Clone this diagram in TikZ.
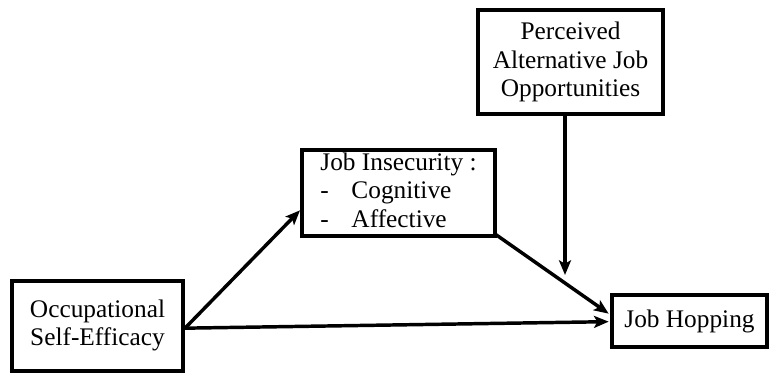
\documentclass[tikz,border=0pt]{standalone}
\usepackage{fontspec}
\setmainfont{Liberation Serif}
\usetikzlibrary{arrows.meta}
\begin{document}
\begin{tikzpicture}[x=0.75pt,y=-0.75pt,
  box/.style={draw=black,line width=3pt,inner sep=0pt,font=\fontsize{19pt}{21.5pt}\selectfont},
  link/.style={line width=2.6pt,-{Stealth[length=11pt,width=9pt,inset=2.5pt]}}]
\useasboundingbox (0,0) rectangle (772,375);
\node[box,minimum width=171*0.75pt,minimum height=90*0.75pt,align=center] (ose) at (97.5,325.5) {Occupational\\Self-Efficacy};
\node[box,minimum width=193*0.75pt,minimum height=81*0.75pt] (ji) at (398.5,193)
  {\begin{tabular}{@{}l@{\hspace{17pt}}l@{}}\multicolumn{2}{@{}l@{}}{Job Insecurity :}\\-&Cognitive\\-&Affective\end{tabular}};
\node[box,minimum width=185*0.75pt,minimum height=104*0.75pt,align=center] (pa) at (570.5,62) {Perceived\\Alternative Job\\Opportunities};
\node[box,minimum width=155*0.75pt,minimum height=52*0.75pt] (jh) at (689.5,321) {Job Hopping};
\coordinate (m) at (565,275);
\draw[link] ([yshift=-2pt]ose.east) -- ([yshift=-13pt]ji.west);
\draw[link] ([yshift=-2pt]ose.east) -- ([xshift=-1pt,yshift=-0.5pt]jh.west);
\draw[link] ([xshift=-1.5pt,yshift=3pt]ji.south east) -- ([xshift=-1pt,yshift=5.5pt]jh.west);
\draw[link] (pa.south -| m) -- (m);
\end{tikzpicture}
\end{document}
